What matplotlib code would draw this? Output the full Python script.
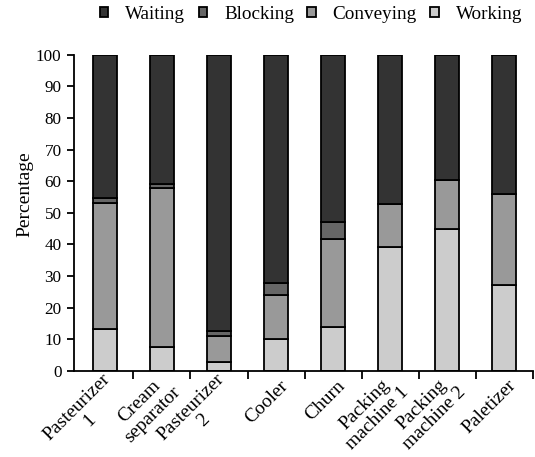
import numpy as np
import matplotlib
matplotlib.use("Agg")
import matplotlib.pyplot as plt
from matplotlib.patches import Patch

plt.rcParams["font.family"] = ["Liberation Serif", "DejaVu Serif"]

machines = ["Pasteurizer\n1", "Cream\nseparator", "Pasteurizer\n2", "Cooler",
            "Churn", "Packing\nmachine 1", "Packing\nmachine 2", "Paletizer"]
working = [13.2, 7.5, 2.8, 10.1, 13.8, 39.1, 44.8, 27.3]
conveying = [40.0, 50.4, 8.4, 13.9, 28.0, 13.6, 15.6, 28.7]
blocking = [1.4, 1.1, 1.5, 3.9, 5.3, 0.0, 0.0, 0.0]
waiting = [100 - w - c - b for w, c, b in zip(working, conveying, blocking)]

series = [("Working", working, "#cccccc"),
          ("Conveying", conveying, "#999999"),
          ("Blocking", blocking, "#666666"),
          ("Waiting", waiting, "#333333")]

fig = plt.figure(figsize=(5.35, 4.57), dpi=100)
ax = fig.add_axes([74 / 535, 86 / 457, 459 / 535, 316.3 / 457])

x = np.arange(len(machines))
bottom = np.zeros(len(machines))
for name, vals, col in series:
    vals = np.array(vals)
    ax.bar(x, vals, 0.42, bottom=bottom, color=col, edgecolor="black",
           linewidth=1.3)
    bottom += vals

ax.set_xlim(-0.54, 7.5)
ax.set_ylim(0, 100)
ax.set_yticks(range(0, 101, 10))
ax.tick_params(axis="y", labelsize=12.3, direction="out", length=5,
               width=1.3, pad=4)
ax.set_xticks([])
ax.set_xticks(np.arange(0.5, 8, 1.0), minor=True)
ax.tick_params(axis="x", which="minor", length=6, width=1.3,
               direction="out", labelbottom=False)
for s in ["top", "right"]:
    ax.spines[s].set_visible(False)
for s in ["left", "bottom"]:
    ax.spines[s].set_linewidth(1.3)

# category labels, rotated, anchored at the right end of the text block
for i, lab in enumerate(machines):
    ax.annotate(lab, xy=(i, 0), xycoords=("data", "axes fraction"),
                xytext=(9, -12), textcoords="offset pixels",
                rotation=45, rotation_mode="anchor", ha="right", va="center",
                multialignment="center", linespacing=1.1, fontsize=14)

ax.set_ylabel("Percentage", fontsize=14)
ax.yaxis.set_label_coords(-0.089, 0.558)

handles = [Patch(facecolor=c, edgecolor="black", linewidth=1.3, label=n)
           for n, _, c in series[::-1]]
fig.legend(handles=handles, loc="upper left",
           bbox_to_anchor=(100 / 535, 1 - 6 / 457), borderpad=0,
           borderaxespad=0, ncol=4, frameon=False, fontsize=13.8,
           handlelength=0.43, handleheight=0.43, handletextpad=0.89,
           columnspacing=0.7)

fig.savefig("out.png", dpi=100)
